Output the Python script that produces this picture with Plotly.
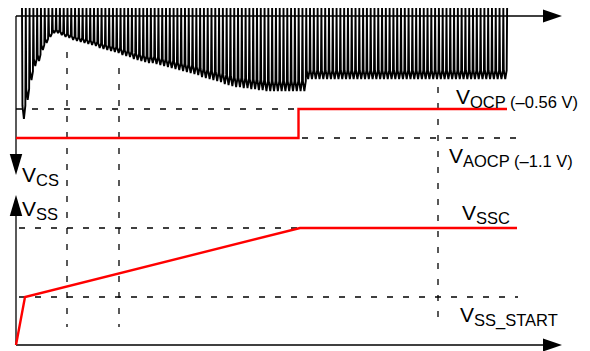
import plotly.graph_objects as go

# ---------------- data (schematic units) ----------------
# time axis: arbitrary units; V_CS and V_SS in schematic units
CYCLE_START = 1.2          # first switching cycle
CYCLE_PERIOD = 0.758       # switching period
VCS_PEAK = 0.08            # V_CS top level of each cycle
# V_CS trough of each switching cycle
VCS_TROUGHS = [
    -1.03, -0.84, -0.64, -0.50, -0.45, -0.34, -0.27, -0.21, -0.17, -0.17,
    -0.19, -0.21, -0.22, -0.24, -0.25, -0.26, -0.27, -0.28, -0.29, -0.30,
    -0.32, -0.33, -0.34, -0.35, -0.36, -0.37, -0.39, -0.40, -0.41, -0.43,
    -0.44, -0.45, -0.46, -0.47, -0.47, -0.48, -0.49, -0.50, -0.51, -0.52,
    -0.53, -0.54, -0.55, -0.56, -0.57, -0.58, -0.59, -0.61, -0.62, -0.63,
    -0.64, -0.65, -0.66, -0.68, -0.69, -0.70, -0.71, -0.71, -0.72, -0.72,
    -0.73, -0.73, -0.74, -0.74, -0.75, -0.75, -0.75, -0.75, -0.75, -0.75,
    -0.75, -0.75, -0.75, -0.75, -0.75, -0.63, -0.63, -0.63, -0.63, -0.63,
    -0.63, -0.63, -0.63, -0.63, -0.63, -0.63, -0.63, -0.63, -0.63, -0.63,
    -0.63, -0.63, -0.63, -0.63, -0.63, -0.63, -0.63, -0.63, -0.63, -0.63,
    -0.63, -0.63, -0.63, -0.63, -0.63, -0.63, -0.63, -0.63, -0.63, -0.63,
    -0.63, -0.63, -0.63, -0.63, -0.63, -0.63, -0.63, -0.63, -0.63, -0.63,
    -0.63, -0.63, -0.63, -0.63, -0.63, -0.63, -0.63, -0.63,
]

V_OCP = -0.93
V_AOCP = -1.22
OCP_T = [0.0, 56.5, 56.5, 98.2]
OCP_V = [V_AOCP, V_AOCP, V_OCP, V_OCP]

VSS_T = [0.0, 1.8, 56.8, 100.2]
VSS_V = [0.0, 0.48, 1.17, 1.17]
V_SSC = 1.17
V_SS_START = 0.48

T_MARKERS = [10.2, 20.6, 84.4]
MARKER_TOPS = [-0.36, -0.52, -0.71]
MARKER_BOTTOM = -3.11

T_AXIS_END = 105.4
T_ARROW_TIP = 109.2

SUB = "<span style='font-size:16.5px'>{}</span>"
LABEL_OCP = "V<sub>" + SUB.format("OCP (–0.56 V)") + "</sub>"
LABEL_AOCP = "V<sub>" + SUB.format("AOCP (–1.1 V)") + "</sub>"
LABEL_SSC = "V<sub>" + SUB.format("SSC") + "</sub>"
LABEL_SS_START = "V<sub>" + SUB.format("SS_START") + "</sub>"
LABEL_CS = "V<sub>" + SUB.format("CS") + "</sub>"
LABEL_SS = "V<sub>" + SUB.format("SS") + "</sub>"

# ---------------- build ----------------
RED = "#ff0000"
BLACK = "#000000"
DASH = "6px,10px"
FONT = "Liberation Sans, Arial, Helvetica, sans-serif"

wave_t, wave_v = [], []
P = CYCLE_PERIOD
for k, tr in enumerate(VCS_TROUGHS):
    t0 = CYCLE_START + k * P
    knee = VCS_PEAK + 0.88 * (tr - VCS_PEAK)
    wave_t += [t0, t0 + 0.12 * P, t0 + 0.5 * P, t0 + 0.88 * P]
    wave_v += [VCS_PEAK, knee, tr, knee]
wave_t.append(CYCLE_START + len(VCS_TROUGHS) * P)
wave_v.append(VCS_PEAK)

fig = go.Figure()


def line(x, y, color=BLACK, width=1.3, dash=None, axis="y"):
    fig.add_trace(go.Scatter(
        x=x, y=y, mode="lines", yaxis=axis, hoverinfo="skip",
        line=dict(color=color, width=width, dash=dash), showlegend=False))


# dashed reference lines
line([0, 55.8], [V_OCP, V_OCP], dash=DASH)
line([57.2, 101.8], [V_AOCP, V_AOCP], dash=DASH)
line([0.6, 56.8], [V_SSC, V_SSC], dash=DASH, axis="y2")
line([0.6, 100.4], [V_SS_START, V_SS_START], dash=DASH, axis="y2")
for t, top in zip(T_MARKERS, MARKER_TOPS):
    line([t, t], [top, MARKER_BOTTOM], dash=DASH)

# axes
line([0, T_AXIS_END], [0, 0])
line([0, 0], [0, -1.40])
line([0, T_AXIS_END], [0, 0], axis="y2")
line([0, 0], [0, 1.31], axis="y2")

# V_CS waveform
line(wave_t, wave_v, width=1.9)

# red traces
line(OCP_T, OCP_V, color=RED, width=2.4)
line(VSS_T, VSS_V, color=RED, width=2.4, axis="y2")

shapes = [
    dict(type="path", xref="x", yref="y", fillcolor=BLACK, line=dict(width=0),
         path=f"M {T_AXIS_END},0.065 L {T_ARROW_TIP},0 L {T_AXIS_END},-0.065 Z"),
    dict(type="path", xref="x", yref="y", fillcolor=BLACK, line=dict(width=0),
         path="M -1.25,-1.38 L 0,-1.59 L 1.25,-1.38 Z"),
    dict(type="path", xref="x", yref="y2", fillcolor=BLACK, line=dict(width=0),
         path="M -1.25,1.29 L 0,1.50 L 1.25,1.29 Z"),
    dict(type="path", xref="x", yref="y2", fillcolor=BLACK, line=dict(width=0),
         path=f"M {T_AXIS_END},0.065 L {T_ARROW_TIP},0 L {T_AXIS_END},-0.065 Z"),
]

ann_font = dict(family=FONT, size=21, color=BLACK)
annotations = [
    dict(x=87.6, y=-0.82, yref="y", text=LABEL_OCP),
    dict(x=86.2, y=-1.41, yref="y", text=LABEL_AOCP),
    dict(x=88.8, y=1.31, yref="y2", text=LABEL_SSC),
    dict(x=88.4, y=0.29, yref="y2", text=LABEL_SS_START),
    dict(x=0.8, y=-1.60, yref="y", text=LABEL_CS),
    dict(x=0.8, y=1.35, yref="y2", text=LABEL_SS),
]
for a in annotations:
    a.update(xref="x", xanchor="left", yanchor="middle", showarrow=False,
             font=ann_font)

fig.update_layout(
    width=590, height=351,
    margin=dict(l=0, r=0, t=0, b=0),
    paper_bgcolor="white", plot_bgcolor="white",
    xaxis=dict(range=[-3.2, 114.8], visible=False, fixedrange=True),
    yaxis=dict(range=[-3.35, 0.16], visible=False, fixedrange=True),
    yaxis2=dict(range=[-0.06, 3.45], visible=False, overlaying="y",
                fixedrange=True),
    shapes=shapes,
    annotations=annotations,
    showlegend=False,
)

fig.write_html(
    "out.html",
    config={"displayModeBar": False, "staticPlot": True},
    post_script="document.body.style.margin='0';document.body.style.overflow='hidden';",
)
